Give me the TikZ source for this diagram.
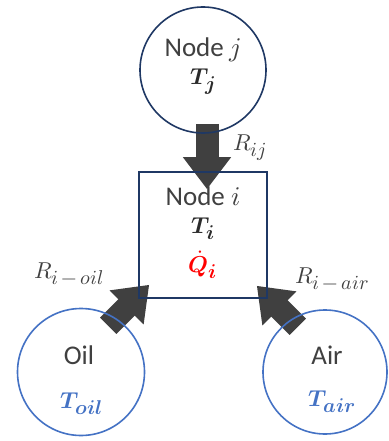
\documentclass[tikz,border=0pt]{standalone}
\usepackage{amsmath}
\usepackage{fontspec}
\usepackage{unicode-math}
\setmainfont{Carlito}
\setmathfont{Latin Modern Math}
\DeclareMathSizes{23}{23}{20}{16}
\usepackage{tikz}
\usetikzlibrary{positioning,calc,arrows.meta,backgrounds}
\definecolor{navyline}{HTML}{1F3864}
\definecolor{bluecirc}{HTML}{4472C4}
\definecolor{flowgray}{HTML}{404040}
\definecolor{labelgray}{HTML}{404040}
\definecolor{tempgray}{HTML}{2B2B2B}

\tikzset{
  tnode/.style={circle, draw=navyline, line width=1.6pt, minimum size=126pt, inner sep=0pt},
  envnode/.style={circle, draw=bluecirc, line width=1.6pt, minimum size=127pt, inner sep=0pt},
  nodebox/.style={rectangle, draw=navyline, line width=1.6pt, minimum width=128pt, minimum height=126pt, inner sep=0pt},
  nametext/.style={text=labelgray, font=\fontsize{27}{31}\selectfont, inner sep=0pt},
  mathtext/.style={font=\fontsize{23}{27}\selectfont, inner sep=0pt},
  rlabel/.style={text=labelgray, font=\fontsize{23}{27}\selectfont, inner sep=0pt},
  heatflow/.style={draw=flowgray, line width=23pt, -{Triangle[width=46pt,length=32pt]}}
}

\begin{document}
\begin{tikzpicture}[x=1pt, y=-1pt]
  \useasboundingbox (0,0) rectangle (388,441);

  % Nodes
  \node[tnode] (nodej) at (203,70) {};
  \node[nodebox] (nodei) at (203,235) {};
  \node[envnode] (oil) at (81,372) {};
  \node[envnode, minimum size=124pt] (air) at (325,372) {};

  % Texts inside
  \node[nametext] (jname) at (203,50) {Node $j$};
  \node[mathtext, text=tempgray] (jtemp) at (203,82) {$\symbfit{T}_{\symbfit{j}}$};
  \node[nametext] (iname) at (203,196) {Node $i$};
  \node[mathtext, text=tempgray] (itemp) at (203,229) {$\symbfit{T}_{\symbfit{i}}$};
  \node[mathtext, text=red] (iheat) at (203,265) {$\dot{\symbfit{Q}}_{\symbfit{i}}$};
  \node[nametext] (oilname) at (79,355) {Oil};
  \node[mathtext, text=bluecirc] (oiltemp) at (82,404) {$\symbfit{T}_{\symbfit{oil}}$};
  \node[nametext] (airname) at (327,355) {Air};
  \node[mathtext, text=bluecirc] (airtemp) at (332,402) {$\symbfit{T}_{\symbfit{air}}$};

  % Resistances
  \node[rlabel, anchor=west] (rij) at (233,148) {$R_{ij}$};
  \node[rlabel, anchor=west] (rioil) at (34,274) {$R_{i\,-\,oil}$};
  \node[rlabel, anchor=west] (riair) at (295,279) {$R_{i\,-\,air}$};

  % Heat flow arrows
  \coordinate (oiltail) at ($(nodei.south west)+(-30,27)$);
  \coordinate (oiltip) at ($(nodei.south west)+(11,-14)$);
  \coordinate (airtail) at ($(nodei.south east)+(30,28)$);
  \coordinate (airtip) at ($(nodei.south east)+(-11,-13)$);
  \begin{scope}[on background layer]
    \draw[heatflow] ([xshift=4pt, yshift=10pt]nodej.south) -- ([xshift=4pt, yshift=-18pt]nodei.north);
    \draw[heatflow] (oiltail) -- (oiltip);
    \draw[heatflow] (airtail) -- (airtip);
  \end{scope}
\end{tikzpicture}
\end{document}
